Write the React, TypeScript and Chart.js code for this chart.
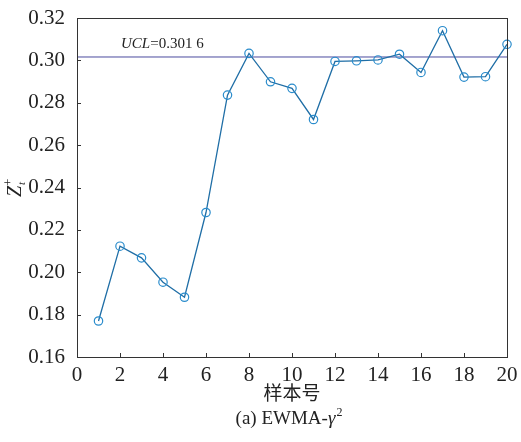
import React, { useEffect, useRef } from "react";
import { Chart, registerables } from "chart.js";

Chart.register(...registerables);

const sampleNumbers = [1, 2, 3, 4, 5, 6, 7, 8, 9, 10, 11, 12, 13, 14, 15, 16, 17, 18, 19, 20];
const zValues = [
  0.177, 0.2123, 0.2068, 0.1953, 0.1882, 0.2282, 0.2836, 0.3033, 0.2899, 0.2868,
  0.2721, 0.2995, 0.2998, 0.3002, 0.3029, 0.2943, 0.314, 0.2921, 0.2923, 0.3076,
];
const uclValue = 0.3016;
const uclLabel = "0.301 6";
const xTicks = [0, 2, 4, 6, 8, 10, 12, 14, 16, 18, 20];
const yTicks = [0.16, 0.18, 0.2, 0.22, 0.24, 0.26, 0.28, 0.3, 0.32];
const xTitle = "样本号";
const captionPrefix = "(a) EWMA-";

const SERIF = '"Liberation Serif", "Times New Roman", serif';

const decorPlugin = {
  id: "decor",
  afterDraw(chart: any) {
    const { ctx, chartArea } = chart;
    const xs = chart.scales.x;
    const ys = chart.scales.y;
    ctx.save();
    // box
    ctx.strokeStyle = "#333";
    ctx.lineWidth = 1;
    ctx.strokeRect(Math.round(chartArea.left) + 0.5, Math.round(chartArea.top) + 0.5,
      Math.round(chartArea.right - chartArea.left), Math.round(chartArea.bottom - chartArea.top));
    // inward ticks
    ctx.beginPath();
    for (const t of xTicks) {
      const px = Math.round(xs.getPixelForValue(t)) + 0.5;
      ctx.moveTo(px, chartArea.bottom);
      ctx.lineTo(px, chartArea.bottom - 4);
    }
    for (const t of yTicks) {
      const py = Math.round(ys.getPixelForValue(t)) + 0.5;
      ctx.moveTo(chartArea.left, py);
      ctx.lineTo(chartArea.left + 4, py);
    }
    ctx.stroke();

    ctx.fillStyle = "#222";
    // UCL label
    ctx.textBaseline = "alphabetic";
    ctx.textAlign = "left";
    ctx.font = `italic 15px ${SERIF}`;
    let x = 121;
    const yb = 48;
    ctx.fillText("UCL", x, yb);
    x += ctx.measureText("UCL").width;
    ctx.font = `15px ${SERIF}`;
    ctx.fillText("=" + uclLabel, x, yb);

    // x title
    ctx.textAlign = "center";
    ctx.font = `19px "Noto Sans CJK SC", sans-serif`;
    ctx.textBaseline = "middle";
    ctx.fillText(xTitle, (chartArea.left + chartArea.right) / 2, 393);

    // caption
    ctx.textBaseline = "alphabetic";
    ctx.textAlign = "left";
    ctx.font = `19px ${SERIF}`;
    const w1 = ctx.measureText(captionPrefix).width;
    ctx.font = `italic 19px ${SERIF}`;
    const w2 = ctx.measureText("γ").width;
    ctx.font = `12px ${SERIF}`;
    const w3 = ctx.measureText("2").width;
    const total = w1 + w2 + w3 + 1;
    let cx = 289 - total / 2;
    const cy = 424;
    ctx.font = `19px ${SERIF}`;
    ctx.fillText(captionPrefix, cx, cy);
    cx += w1;
    ctx.font = `italic 19px ${SERIF}`;
    ctx.fillText("γ", cx, cy);
    cx += w2 + 1;
    ctx.font = `12px ${SERIF}`;
    ctx.fillText("2", cx, cy - 8);

    // y title Z_t^+
    ctx.translate(21, 197);
    ctx.rotate(-Math.PI / 2);
    ctx.textAlign = "left";
    ctx.textBaseline = "alphabetic";
    ctx.font = `italic 20px ${SERIF}`;
    ctx.fillText("Z", 0, 0);
    const zw = ctx.measureText("Z").width;
    ctx.font = `italic 11px ${SERIF}`;
    ctx.fillText("t", zw + 1, 4);
    ctx.font = `13px ${SERIF}`;
    ctx.fillText("+", zw + 0, -9);
    ctx.restore();
  },
};

export default function App() {
  const ref = useRef<HTMLCanvasElement | null>(null);
  useEffect(() => {
    if (!ref.current) return;
    const chart = new Chart(ref.current, {
      type: "line",
      data: {
        datasets: [
          {
            label: "UCL",
            data: [
              { x: xTicks[0], y: uclValue },
              { x: xTicks[xTicks.length - 1], y: uclValue },
            ],
            borderColor: "#4a4a9e",
            borderWidth: 1,
            pointRadius: 0,
            order: 2,
          },
          {
            label: "Z",
            data: sampleNumbers.map((n, i) => ({ x: n, y: zValues[i] })),
            borderColor: "#1f6ea6",
            borderWidth: 1.3,
            pointRadius: 4.2,
            pointBorderColor: "#2a8ccc",
            pointBackgroundColor: "rgba(0,0,0,0)",
            pointBorderWidth: 1.2,
            clip: false as any,
            order: 1,
          },
        ],
      },
      options: {
        animation: false,
        responsive: false,
        layout: { padding: { left: 0, top: 18, right: 14, bottom: 0 } },
        plugins: { legend: { display: false }, tooltip: { enabled: false } },
        scales: {
          x: {
            type: "linear",
            min: 0,
            max: 20,
            grid: { display: false },
            border: { display: false },
            afterBuildTicks: (s: any) => {
              s.ticks = xTicks.map((v) => ({ value: v }));
            },
            afterFit: (s: any) => {
              s.height = 85;
            },
            ticks: {
              color: "#222",
              font: { family: SERIF, size: 21 },
              padding: -2,
              maxRotation: 0,
              callback: (v: any) => String(v),
            },
          },
          y: {
            type: "linear",
            min: 0.16,
            max: 0.32,
            grid: { display: false },
            border: { display: false },
            afterBuildTicks: (s: any) => {
              s.ticks = yTicks.map((v) => ({ value: v }));
            },
            afterFit: (s: any) => {
              s.width = 77;
            },
            ticks: {
              color: "#222",
              font: { family: SERIF, size: 21 },
              padding: 4,
              callback: (v: any) => Number(v).toFixed(2),
            },
          },
        },
      },
      plugins: [decorPlugin],
    } as any);
    return () => chart.destroy();
  }, []);
  return (
    <div style={{ position: "fixed", left: 0, top: 0, width: 521, height: 442, background: "#fff" }}>
      <canvas ref={ref} width={521} height={442} style={{ display: "block" }} />
    </div>
  );
}
